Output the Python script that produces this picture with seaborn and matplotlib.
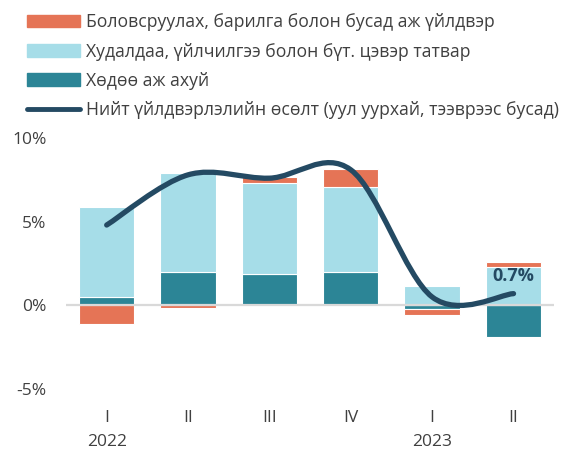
import matplotlib
matplotlib.use("Agg")
from matplotlib import pyplot as plt
from matplotlib.path import Path
from matplotlib.patches import PathPatch, Patch
from matplotlib.lines import Line2D
import matplotlib.transforms as mtransforms
import pandas as pd
import seaborn as sns

# quarters (unique keys) and the labels shown under the bars
quarters = ["2022 I", "2022 II", "2022 III", "2022 IV", "2023 I", "2023 II"]
tick_labels = ["I", "II", "III", "IV", "I", "II"]
years = {"2022": 0, "2023": 4}

# contributions to growth, %
agri = [0.5, 2.0, 1.9, 2.0, -0.2, -1.9]            # Хөдөө аж ахуй
trade = [5.4, 5.9, 5.4, 5.1, 1.15, 2.3]            # Худалдаа, үйлчилгээ ...
industry = [-1.1, -0.15, 0.35, 1.05, -0.35, 0.3]    # Боловсруулах, барилга ...
total = [4.8, 7.8, 7.6, 8.1, 0.5, 0.7]              # Нийт үйлдвэрлэлийн өсөлт

c_orange = "#E57456"
c_light = "#A6DDE8"
c_teal = "#2C8596"
c_navy = "#244A63"
c_text = "#404040"

sns.set_theme(style="white")
plt.rcParams["font.family"] = ["Open Sans", "DejaVu Sans"]

fig = plt.figure(figsize=(5.69, 4.49), dpi=100)
ax = fig.add_axes([0.116, 0.1336, 0.858, 0.559])

# stack positives upward and negatives downward, in series order
pos_base = [0.0] * len(quarters)
neg_base = [0.0] * len(quarters)
for vals, col in [(agri, c_teal), (trade, c_light), (industry, c_orange)]:
    bottoms = []
    for i, v in enumerate(vals):
        if v >= 0:
            bottoms.append(pos_base[i])
            pos_base[i] += v
        else:
            bottoms.append(neg_base[i])
            neg_base[i] += v
    df = pd.DataFrame({"q": quarters, "v": vals})
    sns.barplot(data=df, x="q", y="v", bottom=bottoms, color=col, width=0.68,
                saturation=1, edgecolor="white", linewidth=0.8, ax=ax, zorder=2)

ax.axhline(0, color="#D9D9D9", lw=1.6, zorder=3)

# smoothed total line (Excel-style bezier through the points)
xs = list(range(len(total)))
verts = [(xs[0], total[0])]
codes = [Path.MOVETO]
n = len(total)
for i in range(n - 1):
    p_prev = total[i - 1] if i > 0 else total[i]
    p_next2 = total[i + 2] if i + 2 < n else total[i + 1]
    x_prev = xs[i - 1] if i > 0 else xs[i]
    x_next2 = xs[i + 2] if i + 2 < n else xs[i + 1]
    c1 = (xs[i] + (xs[i + 1] - x_prev) / 6, total[i] + (total[i + 1] - p_prev) / 6)
    c2 = (xs[i + 1] - (x_next2 - xs[i]) / 6, total[i + 1] - (p_next2 - total[i]) / 6)
    verts += [c1, c2, (xs[i + 1], total[i + 1])]
    codes += [Path.CURVE4] * 3
ax.add_patch(PathPatch(Path(verts, codes), facecolor="none", edgecolor=c_navy,
                       lw=3.8, capstyle="round", joinstyle="round", zorder=4))

ax.annotate(f"{total[-1]:.1f}%", (xs[-1], total[-1]), xytext=(0, 6),
            textcoords="offset points", ha="center", va="bottom",
            fontsize=13, fontweight="bold", color=c_navy, zorder=5)

ax.set_xlim(-0.5, 5.5)
ax.set_ylim(-5, 10)
ax.set_yticks([-5, 0, 5, 10])
ax.set_yticklabels(["-5%", "0%", "5%", "10%"])
ax.set_xticks(range(len(quarters)))
ax.set_xticklabels(tick_labels)
ax.tick_params(axis="both", length=0, labelsize=12.5, colors=c_text)
ax.tick_params(axis="y", pad=14)
ax.tick_params(axis="x", pad=15)
ax.set_xlabel("")
ax.set_ylabel("")
sns.despine(ax=ax, left=True, bottom=True)

trans = mtransforms.blended_transform_factory(ax.transData, fig.transFigure)
for yr, pos in years.items():
    ax.text(pos, 7 / 449, yr, transform=trans, ha="center", va="center",
            fontsize=12.5, color=c_text)

handles = [
    Patch(color=c_orange, label="Боловсруулах, барилга болон бусад аж үйлдвэр"),
    Patch(color=c_light, label="Худалдаа, үйлчилгээ болон бүт. цэвэр татвар"),
    Patch(color=c_teal, label="Хөдөө аж ахуй"),
    Line2D([], [], color=c_navy, lw=3.5, solid_capstyle="round",
           label="Нийт үйлдвэрлэлийн өсөлт (уул уурхай, тээврээс бусад)"),
]
leg = fig.legend(handles=handles, loc="upper left", bbox_to_anchor=(0.028, 0.9955),
                 frameon=False, fontsize=12.7, handlelength=3.0, handletextpad=0.33,
                 labelspacing=0.63, borderaxespad=0.25)
for t in leg.get_texts():
    t.set_color(c_text)

fig.savefig("out.png", dpi=100)
